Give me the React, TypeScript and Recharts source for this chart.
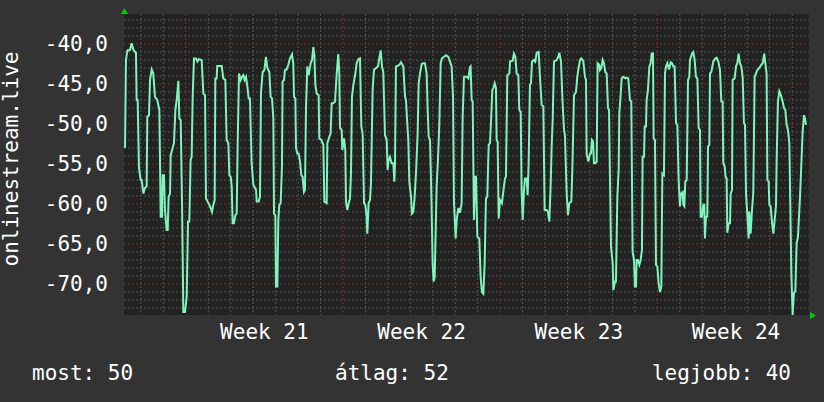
import { LineChart, Line, XAxis, YAxis, CartesianGrid } from 'recharts';

// hours since the left edge of the graph, paired with the measured value
const part1: [number, number][] = [
  [1.1, -53.0], [2.1, -42.0], [3.6, -40.8], [6.4, -40.75], [8.2, -39.9], [10.0, -40.7], [11.8, -41.0], [12.8, -41.1],
  [13.5, -47.0], [14.6, -47.0], [16.0, -55.5], [17.8, -57.0], [18.9, -57.0], [20.7, -58.7], [22.4, -58.0], [24.2, -57.8],
  [24.9, -49.1], [26.7, -48.9], [27.8, -44.5], [29.6, -43.2], [31.3, -43.7], [33.1, -46.6], [35.6, -47.0], [37.8, -48.25],
  [39.2, -61.6], [40.6, -61.6], [41.3, -56.4], [42.7, -56.4], [43.8, -60.75], [45.6, -63.25], [46.7, -63.25], [47.7, -59.1],
  [49.2, -58.7], [49.9, -53.9], [52.0, -53.0], [53.4, -52.4], [54.9, -48.25], [56.3, -47.0], [58.1, -44.6], [59.1, -49.3],
  [60.6, -49.5], [62.0, -59.7], [63.4, -73.5], [65.2, -73.5], [67.0, -71.6], [68.4, -62.2], [69.8, -62.2], [71.2, -54.5],
  [72.3, -54.1], [73.4, -46.6], [74.8, -41.8], [76.9, -41.8], [78.4, -42.2], [79.8, -41.9], [83.0, -42.0], [84.8, -46.2],
  [86.6, -46.4], [87.6, -59.3], [89.4, -59.7], [91.2, -60.1], [92.6, -60.5], [94.0, -61.0], [95.5, -60.1], [96.9, -59.5],
  [97.6, -44.3], [99.0, -44.3], [99.7, -42.75], [104.4, -42.75], [106.1, -44.3], [108.3, -44.5], [109.7, -52.0], [111.5, -52.4],
  [112.6, -56.4], [114.0, -56.6], [115.1, -57.8], [116.1, -62.4], [117.5, -62.4], [119.0, -61.4], [120.4, -61.2], [121.5, -52.4],
  [122.9, -43.7], [124.7, -44.5], [126.1, -44.1], [127.5, -43.9], [128.9, -44.5], [130.4, -44.1], [131.8, -45.3], [133.2, -46.8],
  [134.6, -46.8], [136.4, -54.9], [138.2, -57.6], [140.0, -58.0], [141.1, -58.25], [141.8, -59.7], [143.9, -59.7], [145.3, -59.1],
  [146.4, -46.0], [148.2, -43.5], [150.0, -43.25], [151.7, -41.6], [153.2, -43.0], [155.3, -43.5], [156.7, -46.6], [158.2, -46.8],
  [159.6, -49.3], [160.3, -61.2], [161.7, -61.4], [162.4, -70.3], [163.9, -70.3], [164.9, -62.0], [166.0, -60.1], [167.4, -59.9],
  [168.8, -55.3], [169.5, -44.7], [171.0, -44.5], [172.0, -43.25], [173.8, -43.2], [175.6, -42.6], [177.4, -41.8],
];

const part2: [number, number][] = [
  [179.5, -41.3], [180.9, -42.4], [181.7, -46.6], [183.1, -46.8], [183.8, -53.0], [185.2, -53.7], [186.6, -53.7], [188.1, -54.7],
  [189.5, -56.4], [190.9, -56.6], [192.3, -58.5], [193.4, -58.25], [194.5, -48.0], [195.9, -42.8], [197.3, -43.9], [199.5, -42.4],
  [200.9, -42.0], [202.3, -40.4], [203.4, -41.4], [204.5, -45.1], [205.9, -46.2], [208.0, -46.4], [208.7, -51.8], [210.9, -52.0],
  [213.0, -52.6], [214.1, -59.7], [216.6, -59.9], [217.3, -52.4], [219.4, -51.6], [220.8, -51.2], [221.9, -47.4], [223.7, -47.4],
  [225.5, -47.2], [227.3, -43.7], [229.0, -41.25], [230.1, -43.7], [230.8, -50.5], [232.6, -50.75], [233.3, -53.25], [235.1, -51.8],
  [236.5, -53.25], [237.2, -59.7], [238.6, -60.75], [240.1, -59.9], [241.5, -59.3], [242.6, -56.0], [243.6, -46.6], [245.1, -45.1],
  [247.2, -43.7], [248.6, -42.4], [250.4, -41.9], [252.2, -41.8], [253.6, -50.3], [255.0, -51.2], [256.5, -59.9], [257.9, -60.1],
  [259.3, -61.6], [260.0, -63.7], [261.4, -59.9], [262.9, -59.5], [263.9, -57.4], [265.7, -45.75], [267.1, -43.25], [269.3, -43.0],
  [271.4, -42.8], [272.8, -41.8], [274.3, -40.8], [275.7, -42.8], [277.1, -43.5], [278.9, -51.4], [280.7, -52.0], [281.7, -55.75],
  [282.8, -54.5], [284.2, -54.1], [286.0, -54.9], [287.8, -54.9], [288.9, -57.2], [289.6, -54.9], [290.6, -42.8], [292.1, -42.75],
  [294.2, -42.6], [296.0, -42.3], [298.5, -42.8], [300.3, -46.6], [301.3, -47.0], [302.8, -50.1], [303.8, -52.0], [304.9, -57.2],
  [306.7, -59.1], [307.7, -61.2], [309.2, -61.0], [310.6, -59.1], [312.0, -56.2], [313.8, -51.2], [314.9, -44.9], [316.3, -43.7],
  [318.1, -42.5], [319.9, -42.4], [321.6, -42.4], [323.4, -43.7], [324.5, -48.25], [325.6, -51.6], [327.0, -52.0], [328.4, -58.5],
  [329.8, -67.4], [330.9, -69.7], [332.0, -69.1], [333.0, -63.7], [334.1, -57.75], [335.5, -54.5], [337.0, -49.9], [338.4, -42.4],
  [339.8, -41.8], [342.0, -41.6], [344.1, -41.4], [346.6, -41.6], [348.4, -42.2], [350.1, -42.8], [351.6, -46.6], [352.6, -59.7],
  [354.4, -64.3], [355.5, -62.0], [357.3, -60.5], [359.0, -61.1],
];

const part3: [number, number][] = [
  [360.8, -59.9], [361.9, -49.1], [363.3, -44.1], [366.2, -44.1], [368.0, -44.3], [369.7, -42.9], [370.4, -42.8], [371.5, -47.0],
  [372.6, -47.2], [374.0, -62.0], [375.1, -56.6], [376.1, -56.6], [377.6, -64.1], [379.7, -64.3], [381.1, -69.1], [382.5, -71.0],
  [384.0, -71.2], [385.4, -67.4], [386.8, -59.3], [388.2, -59.1], [389.7, -52.6], [391.1, -52.4], [392.2, -49.7], [393.6, -45.75],
  [394.7, -45.5], [396.1, -44.9], [397.5, -45.5], [398.2, -52.0], [399.3, -52.2], [400.4, -61.8], [401.8, -59.5], [403.9, -59.9],
  [405.3, -58.5], [407.1, -56.8], [408.2, -56.6], [409.6, -43.9], [411.8, -43.7], [412.5, -42.2], [415.3, -42.1], [416.7, -41.2],
  [418.2, -41.6], [419.6, -43.7], [421.4, -43.9], [422.4, -48.25], [423.9, -48.5], [424.9, -58.25], [426.0, -62.0], [427.4, -58.25],
  [428.5, -56.8], [430.3, -56.8], [431.3, -58.9], [432.4, -54.9], [433.8, -45.1], [434.9, -44.9], [436.0, -42.2], [438.1, -42.0],
  [439.5, -42.2], [441.0, -41.1], [443.1, -41.0], [444.5, -44.1], [446.3, -47.6], [448.1, -47.8], [449.5, -60.75], [451.6, -60.75],
  [453.1, -61.0], [454.5, -62.2], [455.9, -57.8], [457.0, -52.8], [458.1, -49.5], [459.5, -42.2], [462.3, -42.0], [464.1, -41.6],
  [465.2, -41.1], [467.0, -42.2], [468.4, -46.6], [470.2, -50.75], [471.2, -51.4], [473.0, -58.5], [474.4, -61.4], [475.9, -59.9],
  [478.0, -59.7], [479.1, -55.75], [480.9, -46.4], [483.0, -46.0], [484.4, -44.1], [485.8, -43.0], [487.3, -42.0], [488.7, -41.8],
  [490.8, -42.1], [492.6, -44.1], [493.7, -44.5], [494.4, -53.7], [496.2, -54.7], [498.0, -53.7], [499.0, -53.7], [500.1, -52.0],
  [501.2, -52.2], [502.2, -54.9], [503.7, -54.9], [505.1, -54.7], [506.1, -42.4], [507.9, -42.6], [508.6, -43.25], [510.1, -43.0],
  [511.5, -42.0], [512.9, -42.4], [514.3, -43.5], [515.8, -43.7], [517.2, -48.0], [518.3, -48.25], [519.3, -56.6], [520.4, -65.3],
  [522.2, -67.4], [522.9, -70.75], [524.7, -69.7], [525.7, -69.7], [527.2, -59.1], [528.6, -55.75], [529.3, -48.7], [530.7, -46.4],
  [531.8, -44.3], [533.6, -44.1], [535.7, -44.3], [537.1, -44.2], [538.9, -44.3], [540.7, -47.0],
];

const part4: [number, number][] = [
  [542.1, -47.2], [543.5, -66.0], [545.0, -67.0], [546.0, -70.3], [547.1, -70.3], [547.8, -67.0], [549.2, -67.0], [550.7, -67.6],
  [552.1, -67.0], [553.5, -65.75], [554.2, -54.1], [555.7, -54.1], [556.4, -50.3], [557.8, -50.3], [558.5, -47.0], [559.9, -45.75],
  [561.4, -42.8], [562.8, -42.4], [563.9, -41.2], [565.3, -41.2], [566.0, -51.8], [567.4, -52.0], [568.5, -67.6], [569.9, -67.8],
  [571.3, -69.9], [572.8, -71.0], [574.2, -70.3], [575.3, -56.2], [577.0, -56.4], [578.1, -43.7], [579.2, -42.8], [580.6, -42.4],
  [582.4, -43.2], [584.2, -42.3], [585.6, -42.4], [587.0, -42.8], [588.4, -42.8], [589.9, -49.9], [591.3, -50.1], [592.7, -57.0],
  [594.1, -60.3], [595.2, -58.7], [597.0, -58.5], [597.7, -60.1], [598.8, -60.3], [599.8, -57.2], [601.3, -57.0], [602.7, -44.5],
  [604.1, -44.1], [604.8, -42.0], [607.0, -41.2], [608.4, -41.0], [609.8, -42.0], [611.2, -44.1], [612.7, -44.3], [614.1, -50.5],
  [615.5, -50.75], [616.2, -61.6], [617.6, -61.6], [619.1, -60.1], [620.1, -60.1], [620.8, -64.3], [621.9, -61.6], [623.3, -61.6],
  [624.1, -52.8], [625.5, -52.6], [626.2, -43.7], [627.6, -43.5], [629.7, -42.2], [631.9, -41.8], [633.3, -41.7], [635.1, -42.2],
  [636.9, -43.25], [638.3, -47.2], [639.7, -47.2], [640.4, -54.9], [641.9, -55.3], [642.9, -56.6], [644.0, -56.8], [644.7, -63.6],
  [646.1, -62.4], [647.6, -62.4], [648.3, -58.7], [649.7, -58.25], [650.4, -44.5], [652.5, -44.3], [654.0, -42.8], [655.4, -42.4],
  [656.8, -41.2], [658.2, -42.4], [659.7, -42.8], [661.1, -44.1], [662.5, -49.9], [663.6, -50.1], [664.7, -58.7], [666.1, -61.4],
  [667.5, -64.3], [668.2, -60.9], [669.6, -63.7], [671.1, -60.75], [672.5, -58.5], [673.9, -44.1], [675.3, -43.7], [676.8, -43.25],
  [678.9, -43.0], [681.0, -42.6], [682.5, -42.4], [684.2, -41.2], [685.3, -42.4], [686.7, -43.7], [687.5, -57.0], [688.9, -57.2],
  [689.6, -60.1], [691.0, -60.3], [692.4, -62.2], [693.9, -63.7], [695.3, -62.0], [696.7, -60.3], [697.4, -54.7], [698.8, -47.2],
  [700.3, -45.9], [702.0, -46.4], [703.8, -47.2], [705.3, -48.0], [706.7, -48.25], [708.1, -50.1], [709.5, -50.75], [711.0, -52.4],
  [711.7, -57.75], [713.1, -68.5], [714.5, -73.9], [715.9, -71.1], [717.4, -70.9], [718.8, -64.9], [720.2, -64.1], [722.4, -59.1],
  [723.8, -55.1], [725.2, -51.0], [726.6, -48.9], [727.7, -49.3], [728.8, -50.1],
];

const weekTicks = [150, 318, 486, 654];
const weekLabels = ['Week 21', 'Week 22', 'Week 23', 'Week 24'];
const weekStarts = [66, 234, 402, 570];
const dayStarts = [18, 42, 90, 114, 138, 162, 186, 210, 258, 282, 306, 330, 354, 378, 426, 450, 474, 498, 522, 546, 594, 618, 642, 666, 690, 714];
const yTicks = [-70, -65, -60, -55, -50, -45, -40];
const yMinor = [-73, -72, -71, -69, -68, -67, -66, -64, -63, -62, -61, -59, -58, -57, -56, -54, -53, -52, -51, -49, -48, -47, -46, -44, -43, -42, -41, -39, -38, -37];

const summary = { now: 'most: 50', avg: 'átlag: 52', best: 'legjobb: 40' };

const data = [...part1, ...part2, ...part3, ...part4].map(([h, v]) => ({ h, v }));

const mono = 'DejaVu Sans Mono, monospace';
const tickStyle = { fill: '#ffffff', fontSize: 21, fontFamily: mono };

export default function App() {
  return (
    <div style={{ position: 'absolute', left: 0, top: 0, width: 824, height: 402, background: '#333333' }}>
      <LineChart width={824} height={402} data={data} margin={{ top: 14, right: 15, bottom: 57, left: 0 }}>
        <CartesianGrid
          fill="#222222"
          fillOpacity={1}
          stroke="#555555"
          strokeDasharray="2 2"
          horizontalValues={yMinor}
          verticalValues={dayStarts}
        />
        <CartesianGrid
          stroke="#7a2a2a"
          strokeDasharray="2 2"
          horizontalValues={yTicks}
          verticalValues={weekStarts}
        />
        <XAxis
          type="number"
          dataKey="h"
          domain={[0, 732]}
          ticks={weekTicks}
          tickFormatter={(_v, i) => weekLabels[i]}
          interval={0}
          height={30}
          axisLine={false}
          tickLine={false}
          tickSize={0}
          tickMargin={9}
          tick={tickStyle}
        />
        <YAxis
          type="number"
          domain={[-73.875, -36.25]}
          ticks={yTicks}
          tickFormatter={(v: number) => v.toFixed(1).replace('.', ',')}
          interval={0}
          width={124}
          axisLine={false}
          tickLine={false}
          tickSize={0}
          tickMargin={16}
          tick={tickStyle}
          allowDataOverflow
        />
        <Line
          type="linear"
          dataKey="v"
          stroke="#7ff5bd"
          strokeWidth={2}
          dot={false}
          isAnimationActive={false}
        />
      </LineChart>
      <svg width={824} height={402} style={{ position: 'absolute', left: 0, top: 0, pointerEvents: 'none' }}>
        <polygon points="121,14 128,14 124.5,8" fill="#00cc00" />
        <polygon points="810,312 810,319 816,315.5" fill="#00cc00" />
        <text transform="translate(18,159) rotate(-90)" textAnchor="middle" fill="#ffffff" fontSize={21} fontFamily={mono}>
          onlinestream.live
        </text>
        <text x={32} y={380} fill="#ffffff" fontSize={21} fontFamily={mono}>{summary.now}</text>
        <text x={335} y={380} fill="#ffffff" fontSize={21} fontFamily={mono}>{summary.avg}</text>
        <text x={791} y={380} textAnchor="end" fill="#ffffff" fontSize={21} fontFamily={mono}>{summary.best}</text>
      </svg>
    </div>
  );
}
